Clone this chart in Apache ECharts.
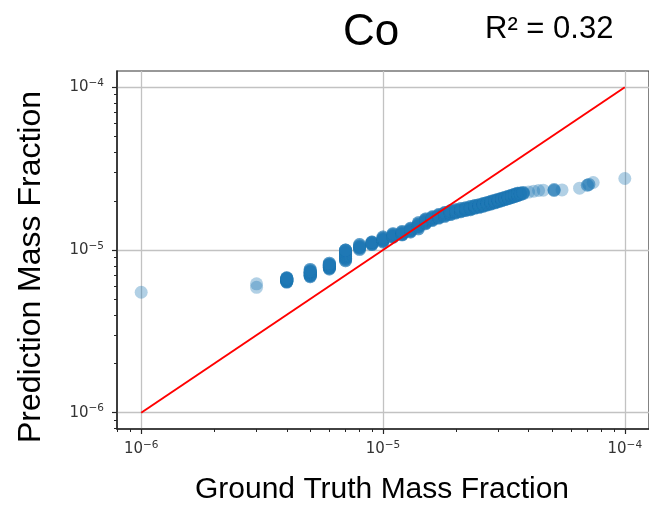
<!DOCTYPE html>
<html>
<head>
<meta charset="utf-8">
<script src="https://cdn.jsdelivr.net/npm/echarts@6/dist/echarts.min.js"></script>
<style>
  html, body { margin: 0; padding: 0; background: #ffffff; }
  #chart { width: 649px; height: 506px; }
</style>
</head>
<body>
<div id="chart"></div>
<script>
// Ground-truth levels (x) and the predictions made at each level (y)
const groundTruth = [
  1e-6, 3e-6, 4e-6, 5e-6, 6e-6, 7e-6, 8e-6, 9e-6,
  1.0e-5, 1.1e-5, 1.2e-5, 1.3e-5, 1.4e-5, 1.5e-5, 1.6e-5, 1.7e-5, 1.8e-5, 1.9e-5,
  2.0e-5, 2.1e-5, 2.2e-5, 2.3e-5, 2.4e-5, 2.5e-5, 2.6e-5, 2.7e-5, 2.8e-5, 2.9e-5,
  3.0e-5, 3.1e-5, 3.2e-5, 3.3e-5, 3.4e-5, 3.5e-5, 3.6e-5, 3.7e-5, 3.8e-5,
  4.0e-5, 4.2e-5, 4.4e-5, 4.6e-5, 5.1e-5, 5.5e-5, 6.5e-5, 7.0e-5, 7.1e-5, 7.4e-5, 1.0e-4
];
const predicted = [
  [5.5e-6],
  [5.9e-6, 6.2e-6],
  [6.35e-6, 6.4e-6, 6.45e-6, 6.5e-6, 6.55e-6, 6.6e-6, 6.65e-6, 6.7e-6, 6.75e-6],
  [6.85e-6, 6.95e-6, 7.0e-6, 7.05e-6, 7.15e-6, 7.25e-6, 7.3e-6, 7.35e-6, 7.45e-6, 7.6e-6],
  [7.65e-6, 7.75e-6, 7.8e-6, 7.85e-6, 7.95e-6, 8.05e-6, 8.1e-6, 8.15e-6, 8.3e-6],
  [8.6e-6, 8.75e-6, 8.9e-6, 9.05e-6, 9.2e-6, 9.35e-6, 9.5e-6, 9.65e-6, 9.8e-6, 9.95e-6, 1.0e-5],
  [1.01e-5, 1.03e-5, 1.04e-5, 1.06e-5, 1.08e-5],
  [1.08e-5, 1.09e-5, 1.1e-5, 1.11e-5, 1.12e-5],
  [1.12e-5, 1.14e-5, 1.15e-5, 1.16e-5, 1.18e-5, 1.2e-5],
  [1.2e-5, 1.21e-5, 1.22e-5, 1.24e-5, 1.26e-5],
  [1.24e-5, 1.25e-5, 1.26e-5, 1.28e-5, 1.3e-5],
  [1.29e-5, 1.31e-5, 1.32e-5, 1.34e-5, 1.36e-5],
  [1.35e-5, 1.38e-5, 1.4e-5, 1.41e-5, 1.44e-5, 1.47e-5],
  [1.45e-5, 1.47e-5, 1.48e-5, 1.51e-5, 1.53e-5, 1.55e-5],
  [1.52e-5, 1.54e-5, 1.55e-5, 1.58e-5, 1.6e-5],
  [1.57e-5, 1.59e-5, 1.6e-5, 1.63e-5, 1.65e-5],
  [1.61e-5, 1.63e-5, 1.65e-5, 1.68e-5, 1.7e-5],
  [1.65e-5, 1.67e-5, 1.69e-5, 1.72e-5, 1.74e-5],
  [1.69e-5, 1.71e-5, 1.72e-5, 1.74e-5, 1.77e-5],
  [1.72e-5, 1.74e-5, 1.75e-5, 1.77e-5, 1.8e-5],
  [1.75e-5, 1.77e-5, 1.78e-5, 1.8e-5, 1.82e-5],
  [1.77e-5, 1.79e-5, 1.8e-5, 1.82e-5, 1.85e-5],
  [1.81e-5, 1.83e-5, 1.84e-5, 1.86e-5, 1.88e-5],
  [1.83e-5, 1.85e-5, 1.86e-5, 1.88e-5, 1.9e-5],
  [1.86e-5, 1.88e-5, 1.89e-5, 1.91e-5, 1.93e-5],
  [1.89e-5, 1.91e-5, 1.92e-5, 1.94e-5, 1.96e-5],
  [1.92e-5, 1.94e-5, 1.95e-5, 1.97e-5, 1.99e-5],
  [1.95e-5, 1.97e-5, 1.98e-5, 2.0e-5, 2.02e-5],
  [1.98e-5, 2.0e-5, 2.01e-5, 2.03e-5, 2.05e-5],
  [2.01e-5, 2.03e-5, 2.04e-5, 2.06e-5, 2.08e-5],
  [2.04e-5, 2.06e-5, 2.07e-5, 2.09e-5, 2.11e-5],
  [2.07e-5, 2.09e-5, 2.1e-5, 2.12e-5, 2.14e-5],
  [2.1e-5, 2.12e-5, 2.13e-5, 2.15e-5, 2.17e-5],
  [2.13e-5, 2.15e-5, 2.16e-5, 2.18e-5, 2.2e-5],
  [2.16e-5, 2.18e-5, 2.19e-5, 2.21e-5, 2.23e-5],
  [2.19e-5, 2.21e-5, 2.22e-5, 2.24e-5],
  [2.22e-5, 2.24e-5, 2.26e-5],
  [2.27e-5],
  [2.3e-5],
  [2.32e-5],
  [2.33e-5],
  [2.32e-5, 2.35e-5],
  [2.34e-5],
  [2.4e-5],
  [2.5e-5],
  [2.53e-5],
  [2.6e-5],
  [2.75e-5]
];
// How many samples share each listed prediction at a ground-truth level
const samplesPerValue = [
  1, 1, 3, 3, 3, 3, 3, 3,
  3, 3, 3, 3, 3, 3, 3, 3, 3, 3,
  3, 3, 3, 3, 3, 3, 3, 3, 3, 3,
  3, 3, 3, 3, 3, 3, 3, 2, 2,
  1, 1, 1, 1, 2, 1, 1, 2, 2, 1, 1
];

// Identity reference line y = x
const identityX = [1e-6, 1e-4];
const identityY = [1e-6, 1e-4];

// Axis extents and ticks
const axisMin = Math.pow(10, -6.1);
const axisMax = Math.pow(10, -3.9);
const majorTicks = [1e-6, 1e-5, 1e-4];
const minorTicks = [
  8e-7, 9e-7,
  2e-6, 3e-6, 4e-6, 5e-6, 6e-6, 7e-6, 8e-6, 9e-6,
  2e-5, 3e-5, 4e-5, 5e-5, 6e-5, 7e-5, 8e-5, 9e-5
];

const elementName = 'Co';
const rSquared = 0.32;

const scatterData = [];
groundTruth.forEach(function (gt, i) {
  predicted[i].forEach(function (p) {
    for (let k = 0; k < samplesPerValue[i]; k++) scatterData.push([gt, p]);
  });
});
const identityData = identityX.map(function (x, i) { return [x, identityY[i]]; });

// "10" with a raised exponent, e.g. 10^-5
function powerLabel(v) {
  const e = Math.round(Math.log10(v));
  return '{b|10}{s|' + (e < 0 ? '\u2212' + (-e) : e) + '}';
}

const tickColor = '#333333';
const tickRich = {
  b: { fontFamily: 'DejaVu Sans', fontSize: 15, lineHeight: 19, color: tickColor },
  s: { fontFamily: 'DejaVu Sans', fontSize: 10.5, lineHeight: 12, color: tickColor, verticalAlign: 'top' }
};
const labelFont = 'Liberation Sans, Arial, sans-serif';

function mainAxis(pos, margin) {
  return {
    type: 'log', position: pos, min: axisMin, max: axisMax,
    axisLine: { show: true, lineStyle: { color: '#262626', width: 1.5 } },
    axisTick: { show: true, inside: false, length: 5, customValues: majorTicks,
      lineStyle: { color: '#262626', width: 1.2 } },
    axisLabel: { show: true, margin: margin, customValues: majorTicks,
      formatter: powerLabel, rich: tickRich },
    splitLine: { show: true, lineStyle: { color: '#c2c2c2', width: 1.3 } },
    minorTick: { show: false }, minorSplitLine: { show: false }
  };
}
function minorAxis(pos) {
  return {
    type: 'log', position: pos, min: axisMin, max: axisMax,
    axisLine: { show: false },
    axisTick: { show: true, inside: false, length: 3, customValues: minorTicks,
      lineStyle: { color: '#262626', width: 1 } },
    axisLabel: { show: false },
    splitLine: { show: false }
  };
}

const chart = echarts.init(document.getElementById('chart'), null, { renderer: 'canvas' });
chart.setOption({
  animation: false,
  backgroundColor: '#ffffff',
  grid: { left: 117, top: 71, width: 533, height: 358, show: true,
    borderColor: '#333333', borderWidth: 1.2, backgroundColor: 'transparent' },
  xAxis: [mainAxis('bottom', 11), minorAxis('bottom')],
  yAxis: [mainAxis('left', 13), minorAxis('left')],
  series: [
    {
      type: 'scatter', xAxisIndex: 0, yAxisIndex: 0,
      data: scatterData, symbol: 'circle', symbolSize: 13,
      large: false,
      itemStyle: { color: '#1f77b4', opacity: 0.35 },
      z: 2
    },
    {
      type: 'line', xAxisIndex: 0, yAxisIndex: 0,
      data: identityData, symbol: 'none',
      lineStyle: { color: '#ff0000', width: 2 },
      z: 3
    }
  ],
  graphic: [
    { type: 'text', x: 371, y: 33, style: { text: elementName,
      font: '44px ' + labelFont, fill: '#000', textAlign: 'center', textVerticalAlign: 'middle' } },
    { type: 'text', x: 485, y: 29, style: { text: 'R\u00B2 = ' + rSquared.toFixed(2),
      font: '31px ' + labelFont, fill: '#000', textAlign: 'left', textVerticalAlign: 'middle' } },
    { type: 'text', x: 382, y: 490, style: { text: 'Ground Truth Mass Fraction',
      font: '30px ' + labelFont, fill: '#000', textAlign: 'center', textVerticalAlign: 'middle' } },
    { type: 'text', x: 31, y: 267, rotation: Math.PI / 2, style: { text: 'Prediction Mass Fraction',
      font: '32px ' + labelFont, fill: '#000', textAlign: 'center', textVerticalAlign: 'middle' } }
  ]
});
</script>
</body>
</html>
